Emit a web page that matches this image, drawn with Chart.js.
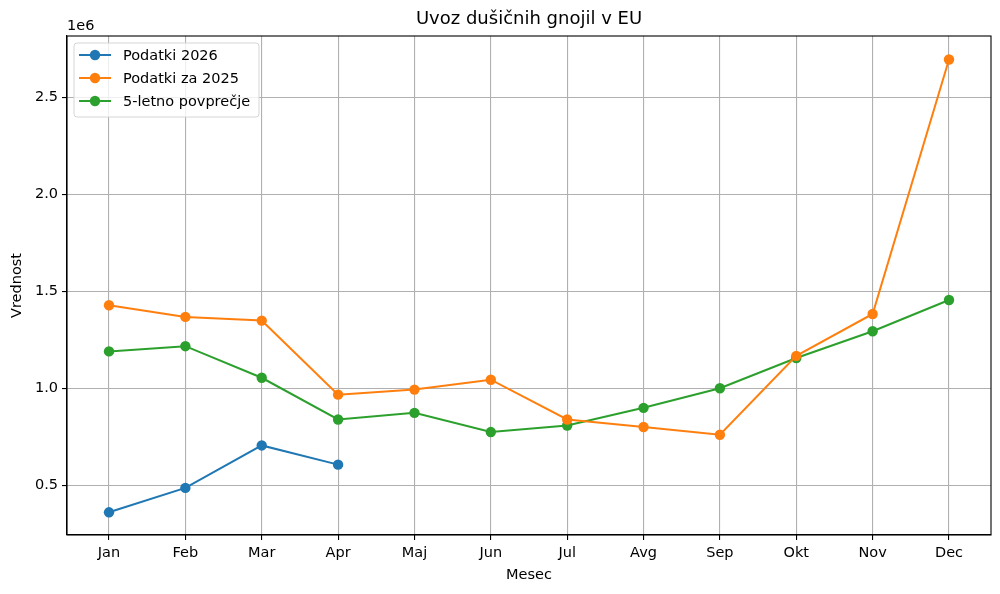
<!DOCTYPE html>
<html><head><meta charset="utf-8">
<script src="https://cdn.jsdelivr.net/npm/chart.js@4.4.1/dist/chart.umd.min.js"></script>
<style>html,body{margin:0;padding:0;background:#fff;}#wrap{width:1000px;height:594px;}</style>
</head><body><div id="wrap"><canvas id="c"></canvas></div>
<script>
const months = ["Jan","Feb","Mar","Apr","Maj","Jun","Jul","Avg","Sep","Okt","Nov","Dec"];
const data2026 = [360000, 486000, 705000, 606000];
const data2025 = [1428000, 1368000, 1349000, 967000, 993000, 1044000, 839000, 800000, 760000, 1167000, 1383000, 2696000];
const avg5 = [1190000, 1217000, 1054000, 839000, 873000, 774000, 808000, 899000, 1000000, 1156000, 1294000, 1455000];
const yTicks = [500000, 1000000, 1500000, 2000000, 2500000];
const seriesLabels = ["Podatki 2026", "Podatki za 2025", "5-letno povprečje"];
const colors = ["#1f77b4", "#ff7f0e", "#2ca02c"];

const FONT = "'DejaVu Sans', sans-serif";
const FS = 14.5;
const toPts = arr => arr.map((v, i) => ({x: i, y: v}));

const ds = [data2026, data2025, avg5].map((arr, k) => ({
  label: seriesLabels[k], data: toPts(arr), borderColor: colors[k], backgroundColor: colors[k],
  borderWidth: 2, pointRadius: 5.2, pointHoverRadius: 5.2, pointBorderWidth: 0, tension: 0
}));

const extras = {
  id: 'extras',
  afterDraw(chart) {
    const ctx = chart.ctx, a = chart.chartArea;
    ctx.save();
    ctx.strokeStyle = '#000'; ctx.lineWidth = 1.1;
    ctx.strokeRect(a.left, a.top, a.right - a.left, a.bottom - a.top);
    ctx.fillStyle = '#000'; ctx.textAlign = 'center'; ctx.textBaseline = 'middle';
    ctx.font = "18px " + FONT;
    ctx.fillText("Uvoz dušičnih gnojil v EU", (a.left + a.right) / 2, 19);
    ctx.font = FS + "px " + FONT;
    ctx.fillText("Mesec", (a.left + a.right) / 2, 575);
    ctx.save(); ctx.translate(17, (a.top + a.bottom) / 2); ctx.rotate(-Math.PI / 2);
    ctx.fillText("Vrednost", 0, 0); ctx.restore();
    ctx.textAlign = 'left';
    ctx.fillText("1e6", a.left, 26);
    const lx = 74, ly = 43, lw = 185, lh = 74;
    ctx.fillStyle = 'rgba(255,255,255,0.8)';
    ctx.strokeStyle = '#d6d6d6'; ctx.lineWidth = 1;
    const r = 3;
    ctx.beginPath();
    ctx.moveTo(lx + r, ly); ctx.lineTo(lx + lw - r, ly); ctx.quadraticCurveTo(lx + lw, ly, lx + lw, ly + r);
    ctx.lineTo(lx + lw, ly + lh - r); ctx.quadraticCurveTo(lx + lw, ly + lh, lx + lw - r, ly + lh);
    ctx.lineTo(lx + r, ly + lh); ctx.quadraticCurveTo(lx, ly + lh, lx, ly + lh - r);
    ctx.lineTo(lx, ly + r); ctx.quadraticCurveTo(lx, ly, lx + r, ly); ctx.closePath();
    ctx.fill(); ctx.stroke();
    chart.data.datasets.forEach((d, i) => {
      const y = 55 + i * 23;
      ctx.strokeStyle = d.borderColor; ctx.lineWidth = 2;
      ctx.beginPath(); ctx.moveTo(79, y); ctx.lineTo(111, y); ctx.stroke();
      ctx.fillStyle = d.borderColor;
      ctx.beginPath(); ctx.arc(95, y, 5.2, 0, Math.PI * 2); ctx.fill();
      ctx.fillStyle = '#000'; ctx.font = FS + "px " + FONT; ctx.textBaseline = 'middle';
      ctx.fillText(d.label, 123, y + 1);
    });
    ctx.restore();
  }
};

new Chart(document.getElementById('c'), {
  type: 'line',
  data: { datasets: ds },
  options: {
    responsive: true, maintainAspectRatio: false, animation: false,
    layout: { padding: { left: 0, right: 9, top: 36, bottom: 0 } },
    plugins: { legend: { display: false }, title: { display: false }, tooltip: { enabled: false } },
    scales: {
      x: {
        type: 'linear', min: -0.55, max: 11.55,
        afterBuildTicks: s => { s.ticks = months.map((m, i) => ({ value: i })); },
        afterFit: s => { s.height = 59; },
        ticks: { callback: v => months[v] ?? '', color: '#000', font: { family: FONT, size: FS }, padding: 5, maxRotation: 0, autoSkip: false },
        grid: { color: '#b0b0b0', lineWidth: 1.1, tickColor: '#000', tickLength: 5 },
        border: { color: '#000', width: 1.1 }
      },
      y: {
        type: 'linear', min: 243000, max: 2817000,
        afterBuildTicks: s => { s.ticks = yTicks.map(v => ({ value: v })); },
        afterFit: s => { s.width = 67; },
        ticks: { callback: v => (v / 1e6).toFixed(1), color: '#000', font: { family: FONT, size: FS }, padding: 4 },
        grid: { color: '#b0b0b0', lineWidth: 1.1, tickColor: '#000', tickLength: 5 },
        border: { color: '#000', width: 1.1 }
      }
    }
  },
  plugins: [extras]
});
</script></body></html>
